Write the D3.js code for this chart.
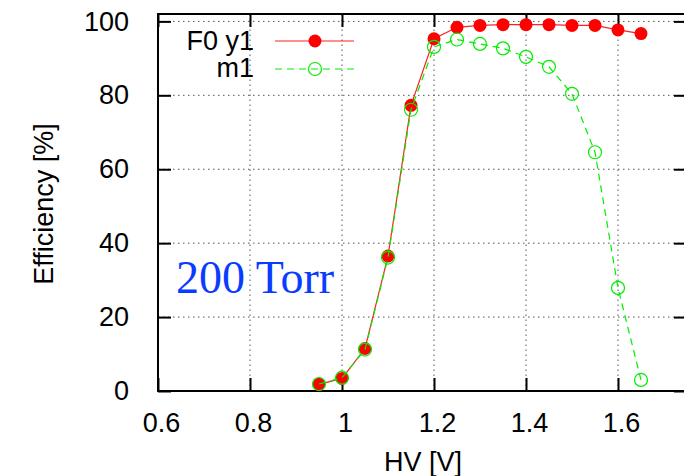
<!DOCTYPE html>
<html><head><meta charset="utf-8">
<script src="https://cdn.jsdelivr.net/npm/d3@7"></script>
<style>body{margin:0;background:#fff}svg{display:block}</style>
</head><body>
<script>
const hv = [0.95,1.0,1.05,1.1,1.15,1.2,1.25,1.3,1.35,1.4,1.45,1.5,1.55,1.6,1.65];
const f0y1 = [1.8,3.4,11.5,36.5,77.3,95.3,98.4,98.9,99.1,99.1,99.1,98.9,98.9,97.7,96.7];
const m1 = [1.9,3.6,11.2,36.1,76.1,93.1,95.1,93.9,92.7,90.4,87.7,80.4,64.6,27.9,3.0];
const xTicks = [0.6,0.8,1.0,1.2,1.4,1.6];
const yTicks = [0,20,40,60,80,100];
const seriesNames = ["F0 y1","m1"];

(function(){
const W=684,H=476;
const svg=d3.select("body").append("svg").attr("width",W).attr("height",H);
const x=d3.scaleLinear().domain([0.6,1.75]).range([158,687]);
const y=d3.scaleLinear().domain([0,102]).range([391,14]);
const font="Liberation Sans, Arial, sans-serif";

// grid
const g=svg.append("g");
g.selectAll(".gy").data(yTicks.filter(v=>v>0)).enter().append("line")
 .attr("x1",x.range()[0]).attr("x2",x.range()[1]).attr("y1",d=>y(d)).attr("y2",d=>y(d))
 .attr("stroke","#555").attr("stroke-width",1).attr("stroke-dasharray","1.5,3.5");
g.selectAll(".gx").data(xTicks.filter(v=>v>0.6)).enter().append("line")
 .attr("x1",d=>x(d)).attr("x2",d=>x(d)).attr("y1",y.range()[0]).attr("y2",y.range()[1])
 .attr("stroke","#555").attr("stroke-width",1).attr("stroke-dasharray","1.5,3.5");

// axes
const tl=13;
const ax=svg.append("g").attr("font-family",font).attr("font-size",27);
const axB=d3.axisBottom(x).tickValues(xTicks).tickFormat(d3.format("~g")).tickSize(-tl).tickPadding(22);
const axT=d3.axisTop(x).tickValues(xTicks).tickFormat("").tickSize(-tl);
const axL=d3.axisLeft(y).tickValues(yTicks).tickFormat(d3.format("d")).tickSize(-tl).tickPadding(29);
const axR=d3.axisRight(y).tickValues(yTicks).tickFormat("").tickSize(-tl);
function style(sel){sel.select(".domain").remove();sel.selectAll("line").attr("stroke","#000").attr("stroke-width",2);sel.selectAll("text").attr("fill","#000").attr("font-family",font).attr("font-size",27);}
ax.append("g").attr("transform",`translate(0,${y(0)})`).call(axB).call(style).selectAll("text").attr("dx",3);
ax.append("g").attr("transform",`translate(0,${y(102)})`).call(axT).call(style);
ax.append("g").attr("transform",`translate(${x(0.6)},0)`).call(axL).call(style);
ax.append("g").attr("transform",`translate(${x(1.75)},0)`).call(axR).call(style);
svg.append("rect").attr("x",x(0.6)).attr("y",y(102)).attr("width",x(1.75)-x(0.6)).attr("height",y(0)-y(102))
 .attr("fill","none").attr("stroke","#000").attr("stroke-width",2);

// labels
svg.append("text").attr("x",423).attr("y",471).attr("text-anchor","middle")
 .attr("font-family",font).attr("font-size",27).text("HV [V]");
svg.append("text").attr("transform","translate(53,204) rotate(-90)").attr("text-anchor","middle")
 .attr("font-family",font).attr("font-size",27).text("Efficiency [%]");
svg.append("text").attr("x",176).attr("y",293).attr("font-family","Liberation Serif, Times New Roman, serif")
 .attr("font-size",46).attr("fill","#0a3cff").text("200 Torr");

// series
const pts1=hv.map((v,i)=>[v,f0y1[i]]);
const pts2=hv.map((v,i)=>[v,m1[i]]);
const line=d3.line().x(d=>x(d[0])).y(d=>y(d[1]));
svg.append("path").attr("d",line(pts1)).attr("fill","none").attr("stroke","#ff2020").attr("stroke-width",1.2);
svg.selectAll(".p1").data(pts1).enter().append("circle").attr("cx",d=>x(d[0])).attr("cy",d=>y(d[1])).attr("r",6.5).attr("fill","#ff0000");
svg.append("path").attr("d",line(pts2)).attr("fill","none").attr("stroke","#00ee00").attr("stroke-width",1.2).attr("stroke-dasharray","7,5");
svg.selectAll(".p2").data(pts2).enter().append("circle").attr("cx",d=>x(d[0])).attr("cy",d=>y(d[1])).attr("r",6.5).attr("fill","none").attr("stroke","#00ee00").attr("stroke-width",1.2);

// legend
const lg=svg.append("g").attr("font-family",font).attr("font-size",27);
const ly=[41,69];
lg.append("text").attr("x",254).attr("y",50).attr("text-anchor","end").text(seriesNames[0]);
lg.append("text").attr("x",254).attr("y",77).attr("text-anchor","end").text(seriesNames[1]);
lg.append("line").attr("x1",275).attr("x2",354).attr("y1",ly[0]).attr("y2",ly[0]).attr("stroke","#ff2020").attr("stroke-width",1.2);
lg.append("circle").attr("cx",315).attr("cy",ly[0]).attr("r",6.5).attr("fill","#ff0000");
lg.append("line").attr("x1",275).attr("x2",354).attr("y1",ly[1]).attr("y2",ly[1]).attr("stroke","#00ee00").attr("stroke-width",1.2).attr("stroke-dasharray","7,5");
lg.append("circle").attr("cx",315).attr("cy",ly[1]).attr("r",6.5).attr("fill","none").attr("stroke","#00ee00").attr("stroke-width",1.2);
})();
</script>
</body></html>
